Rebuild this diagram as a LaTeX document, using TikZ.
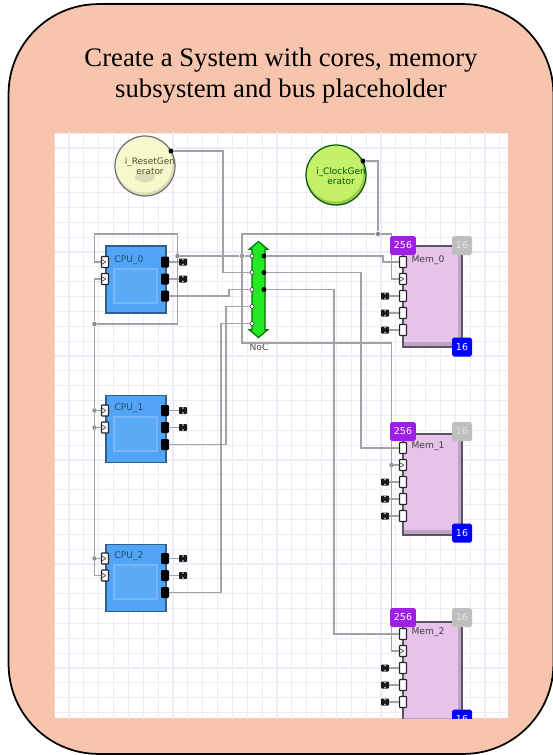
\documentclass[tikz,border=0pt]{standalone}
\usepackage{fontspec}
\setmainfont{Liberation Serif}
\setsansfont{DejaVu Sans}
\usepackage{xcolor}
\usetikzlibrary{positioning,shapes.arrows}
\definecolor{framefill}{HTML}{F7C5AD}
\definecolor{gridcol}{HTML}{ECECF6}
\definecolor{wirecol}{HTML}{A2A2A6}
\definecolor{cpufill}{HTML}{52A5F6}
\definecolor{cpuedge}{HTML}{2F5F8F}
\definecolor{memfill}{HTML}{E6C4EA}
\definecolor{memshade}{HTML}{BFA3C4}
\definecolor{memedge}{HTML}{5E5464}
\definecolor{dataviolet}{HTML}{A01FE6}
\definecolor{resetfill}{HTML}{F5F9CC}
\definecolor{resetshade}{HTML}{D9DDB8}
\definecolor{clockfill}{HTML}{C4F06A}
\definecolor{clockshade}{HTML}{9CCB4E}
\definecolor{nocfill}{HTML}{24EA24}

\begin{document}
\begin{tikzpicture}[
    x=0.02cm, y=-0.02cm,
    frame/.style={
      draw=black,
      line width=1pt,
      fill=framefill,
      rounded corners=1.8cm,
      minimum width=10.9cm,
      minimum height=15cm
    },
    sheet/.style={
      fill=white,
      minimum width=9.06cm,
      minimum height=11.7cm,
      inner sep=0pt
    },
    heading/.style={
      align=center,
      font=\fontsize{15.2}{18}\selectfont
    },
    gridline/.style={draw=gridcol, line width=0.6pt},
    wire/.style={draw=wirecol, line width=0.65pt},
    cpu/.style={
      draw=cpuedge,
      line width=0.7pt,
      fill=cpufill,
      minimum width=1.2cm,
      minimum height=1.34cm,
      inner sep=0pt
    },
    cpucore/.style={
      draw=cpufill!80!white,
      line width=0.7pt,
      fill=cpufill!95!white,
      minimum width=0.86cm,
      minimum height=0.68cm,
      inner sep=0pt
    },
    mem/.style={
      draw=memedge,
      line width=1.1pt,
      fill=memfill,
      minimum width=1.18cm,
      minimum height=2.02cm,
      inner sep=0pt,
      path picture={
        \fill[memshade] (path picture bounding box.south west) rectangle
          ([yshift=0.1cm]path picture bounding box.south east);
        \fill[memshade] (path picture bounding box.north east) rectangle
          ([xshift=-0.08cm]path picture bounding box.south east);
      }
    },
    gen/.style={
      circle,
      line width=0.7pt,
      minimum size=1.2cm,
      inner sep=0pt
    },
    genname/.style={
      align=center,
      inner sep=0pt,
      font=\sffamily\fontsize{5.1}{5.7}\selectfont
    },
    port/.style={
      draw=black!85,
      line width=0.6pt,
      fill=white,
      rounded corners=0.3pt,
      minimum width=0.14cm,
      minimum height=0.22cm,
      inner sep=0pt
    },
    clkport/.style={
      port,
      path picture={
        \draw[black!70, line width=0.4pt]
          (path picture bounding box.north west) ++(0,-0.06cm)
          -- ++(0.09cm,-0.05cm) -- ++(-0.09cm,-0.05cm);
      }
    },
    outport/.style={
      fill=black,
      rounded corners=0.6pt,
      minimum width=0.16cm,
      minimum height=0.22cm,
      inner sep=0pt
    },
    term/.style={
      fill=black!90,
      rounded corners=0.5pt,
      minimum width=0.16cm,
      minimum height=0.14cm,
      inner sep=0pt,
      path picture={
        \fill[white!65!black] ([xshift=-0.02cm]path picture bounding box.north) rectangle
          ([xshift=0.02cm,yshift=-0.04cm]path picture bounding box.north);
        \fill[white!65!black] ([xshift=-0.02cm]path picture bounding box.south) rectangle
          ([xshift=0.02cm,yshift=0.04cm]path picture bounding box.south);
      }
    },
    junction/.style={circle, fill=wirecol!85!black, minimum size=0.09cm, inner sep=0pt},
    blackdot/.style={circle, fill=black, minimum size=0.1cm, inner sep=0pt},
    whitedot/.style={circle, draw=black!70, line width=0.4pt, fill=white, minimum size=0.08cm, inner sep=0pt},
    badge/.style={
      rounded corners=1pt,
      text=white,
      minimum height=0.38cm,
      inner sep=0pt,
      font=\sffamily\fontsize{5.4}{6.4}\selectfont
    },
    tag/.style={
      inner sep=0pt,
      font=\sffamily\fontsize{5.2}{6.4}\selectfont
    }
  ]
    \useasboundingbox (0,0) rectangle (553,755);
    \node[frame] (outer) at (281,379) {};
    \node[heading] (caption) at (281,75.5) {Create a System with cores, memory\\subsystem and bus placeholder};
    \node[sheet] (canvas) at (281.5,425.5) {};

    \begin{scope}
      \clip (canvas.south west) rectangle (canvas.north east);
      \draw[gridline, shift={(69,148)}, xstep=0.2972cm, ystep=0.2972cm] (-20,-20) grid (445,575);

      % generators
      \node[gen, draw=black!55, fill=resetshade,
        path picture={
          \fill[resetfill] ([xshift=-0.02cm,yshift=0.04cm]path picture bounding box.center) circle (0.57cm);
          \fill[resetshade] ([yshift=-0.22cm]path picture bounding box.center) ellipse (0.2cm and 0.1cm);
        }] (resetgen) at (145,166) {};
      \node[gen, draw=black!65!green, fill=clockshade,
        path picture={\fill[clockfill] ([xshift=-0.02cm,yshift=0.04cm]path picture bounding box.center) circle (0.57cm);}] (clockgen) at (336,175) {};
      \node[genname, text=black!55!olive] (resetname) at (150,166) {i\_ResetGen\\erator};
      \node[genname, text=black!65!green] (clockname) at (341,176) {i\_ClockGen\\erator};
      \node[blackdot] (resetout) at (171,151) {};
      \node[blackdot] (clockout) at (363,161) {};

      % cores
      \node[cpu] (cpu0) at (136,279.5) {};
      \node[cpu, below=1.62cm of cpu0] (cpu1) {};
      \node[cpu, below=1.62cm of cpu1] (cpu2) {};
      \node[cpucore] (core0) at (135.5,286) {};
      \node[cpucore] (core1) at (135.5,434) {};
      \node[cpucore] (core2) at (135.5,582) {};
      \node[tag, text=cpuedge!80!black] (cpu0name) at (129,260) {CPU\_0};
      \node[tag, text=cpuedge!80!black] (cpu1name) at (129,408) {CPU\_1};
      \node[tag, text=cpuedge!80!black] (cpu2name) at (129,556) {CPU\_2};

      \node[clkport] (cpu0a) at (105,262) {};
      \node[clkport] (cpu0b) at (105,279) {};
      \node[clkport] (cpu1a) at (105,410.5) {};
      \node[clkport] (cpu1b) at (105,427.5) {};
      \node[clkport] (cpu2a) at (105,558.5) {};
      \node[clkport] (cpu2b) at (105,575.5) {};

      \node[outport] (cpu0x) at (165,262) {};
      \node[outport] (cpu0y) at (165,279) {};
      \node[outport] (cpu0z) at (165,296) {};
      \node[outport] (cpu1x) at (165,410.5) {};
      \node[outport] (cpu1y) at (165,427.5) {};
      \node[outport] (cpu1z) at (165,444.5) {};
      \node[outport] (cpu2x) at (165,558.5) {};
      \node[outport] (cpu2y) at (165,575.5) {};
      \node[outport] (cpu2z) at (165,592.5) {};

      \node[term] (cpu0xend) at (183,262) {};
      \node[term] (cpu0yend) at (183,279) {};
      \node[term] (cpu1xend) at (183,410.5) {};
      \node[term] (cpu1yend) at (183,427.5) {};
      \node[term] (cpu2xend) at (183,558.5) {};
      \node[term] (cpu2yend) at (183,575.5) {};

      % network
      \node[double arrow, shape border rotate=90, draw=black!55!green, line width=0.7pt, fill=nocfill,
        inner sep=0.12cm, double arrow tip angle=100, double arrow head extend=0.05cm,
        minimum height=1.92cm] (noc) at (258.5,289.5) {};
      \node[tag, text=black!70] (nocname) at (259,347) {NoC};
      \node[whitedot] (nocl0) at (252,256) {};
      \node[whitedot] (nocl1) at (252,272.5) {};
      \node[whitedot] (nocl2) at (252,289.5) {};
      \node[whitedot] (nocl3) at (252,306.5) {};
      \node[whitedot] (nocl4) at (252,323.5) {};
      \node[blackdot] (nocr0) at (264,256) {};
      \node[blackdot] (nocr1) at (264,272.5) {};
      \node[blackdot] (nocr2) at (264,289.5) {};

      % memories
      \node[mem] (mem0) at (432.5,296.5) {};
      \node[mem, below=1.7cm of mem0] (mem1) {};
      \node[mem, below=1.7cm of mem1] (mem2) {};
      \node[tag, text=black!75] (mem0name) at (428,260) {Mem\_0};
      \node[tag, text=black!75] (mem1name) at (428,446) {Mem\_1};
      \node[tag, text=black!75] (mem2name) at (428,632) {Mem\_2};

      \node[port] (mem0a) at (403,262) {};
      \node[clkport] (mem0b) at (403,279) {};
      \node[port] (mem0c) at (403,296) {};
      \node[port] (mem0d) at (403,313) {};
      \node[port] (mem0e) at (403,330) {};
      \node[port] (mem1a) at (403,448) {};
      \node[clkport] (mem1b) at (403,465) {};
      \node[port] (mem1c) at (403,482) {};
      \node[port] (mem1d) at (403,499) {};
      \node[port] (mem1e) at (403,516) {};
      \node[port] (mem2a) at (403,634) {};
      \node[clkport] (mem2b) at (403,651) {};
      \node[port] (mem2c) at (403,668) {};
      \node[port] (mem2d) at (403,685) {};
      \node[port] (mem2e) at (403,702) {};

      \node[term] (mem0cend) at (385,296) {};
      \node[term] (mem0dend) at (385,313) {};
      \node[term] (mem0eend) at (385,330) {};
      \node[term] (mem1cend) at (385,482) {};
      \node[term] (mem1dend) at (385,499) {};
      \node[term] (mem1eend) at (385,516) {};
      \node[term] (mem2cend) at (385,668) {};
      \node[term] (mem2dend) at (385,685) {};
      \node[term] (mem2eend) at (385,702) {};

      % bends of the long wires
      \coordinate (resetdrop) at (223,200);
      \coordinate (cpu0rise) at (229,292);
      \coordinate (cpu1rise) at (226,380);
      \coordinate (cpu2rise) at (221,480);
      \coordinate (nocdrop0) at (383,259);
      \coordinate (nocdrop1) at (361,360);
      \coordinate (nocdrop2) at (334,460);
      \coordinate (clockdrop) at (378,200);
      \coordinate (busnw) at (242,234);
      \coordinate (bussw) at (242,343);
      \coordinate (busse) at (391.5,343);
      \coordinate (mem0drop) at (391.5,260);
      \coordinate (loopnw) at (94.5,234);
      \coordinate (loopse) at (177.5,324);

      \node[junction] (clockjoin) at (378,234) {};
      \node[junction] (memjoin) at (391.5,465) {};
      \node[junction] (loopjoin) at (94.5,324) {};
      \node[junction] (looptap) at (177.5,256) {};
      \node[junction] (bustap) at (242,256) {};
      \node[junction] (cpu1ajoin) at (94.5,410.5) {};
      \node[junction] (cpu1bjoin) at (94.5,427.5) {};
      \node[junction] (cpu2ajoin) at (94.5,558.5) {};

      \draw[wire] (resetout) -| (resetdrop) |- (nocl1);
      \draw[wire] (clockout) -| (clockdrop) -- (clockjoin);
      \draw[wire] (clockjoin) -- (busnw) -- (bussw) -- (busse) |- (mem2b.west);
      \draw[wire] (clockjoin) -| (mem0drop) |- (mem0b.west);
      \draw[wire] (memjoin) -- (mem1b.west);
      \draw[wire] (looptap) -- (bustap) -- (nocl0);

      \draw[wire] (cpu0a.west) -| (loopnw) -| (loopse) -- (loopjoin);
      \draw[wire] (cpu0b.west) -| (loopjoin);
      \draw[wire] (loopjoin) |- (cpu2b.west);
      \draw[wire] (cpu1ajoin) -- (cpu1a.west);
      \draw[wire] (cpu1bjoin) -- (cpu1b.west);
      \draw[wire] (cpu2ajoin) -- (cpu2a.west);

      \draw[wire] (cpu0z.east) -| (cpu0rise) |- (nocl2);
      \draw[wire] (cpu1z.east) -| (cpu1rise) |- (nocl3);
      \draw[wire] (cpu2z.east) -| (cpu2rise) |- (nocl4);

      \draw[wire] (nocr0) -| (nocdrop0) |- (mem0a.west);
      \draw[wire] (nocr1) -| (nocdrop1) |- (mem1a.west);
      \draw[wire] (nocr2) -| (nocdrop2) |- (mem2a.west);

      \draw[wire] (cpu0x) -- (cpu0xend);
      \draw[wire] (cpu0y) -- (cpu0yend);
      \draw[wire] (cpu1x) -- (cpu1xend);
      \draw[wire] (cpu1y) -- (cpu1yend);
      \draw[wire] (cpu2x) -- (cpu2xend);
      \draw[wire] (cpu2y) -- (cpu2yend);
      \draw[wire] (mem0cend) -- (mem0c);
      \draw[wire] (mem0dend) -- (mem0d);
      \draw[wire] (mem0eend) -- (mem0e);
      \draw[wire] (mem1cend) -- (mem1c);
      \draw[wire] (mem1dend) -- (mem1d);
      \draw[wire] (mem1eend) -- (mem1e);
      \draw[wire] (mem2cend) -- (mem2c);
      \draw[wire] (mem2dend) -- (mem2d);
      \draw[wire] (mem2eend) -- (mem2e);

      % badges sit over the clock wire
      \node[badge, fill=dataviolet, minimum width=0.52cm] (mem0data) at (403,245.5) {256};
      \node[badge, fill=black!25, text=white!90!black, minimum width=0.4cm] (mem0lat) at (462,245.5) {16};
      \node[badge, fill=blue, minimum width=0.4cm] (mem0addr) at (462,347) {16};
      \node[badge, fill=dataviolet, minimum width=0.52cm] (mem1data) at (403,431.5) {256};
      \node[badge, fill=black!25, text=white!90!black, minimum width=0.4cm] (mem1lat) at (462,431.5) {16};
      \node[badge, fill=blue, minimum width=0.4cm] (mem1addr) at (462,533) {16};
      \node[badge, fill=dataviolet, minimum width=0.52cm] (mem2data) at (403,617.5) {256};
      \node[badge, fill=black!25, text=white!90!black, minimum width=0.4cm] (mem2lat) at (462,617.5) {16};
      \node[badge, fill=blue, minimum width=0.4cm] (mem2addr) at (462,719) {16};
    \end{scope}
  \end{tikzpicture}
\end{document}
